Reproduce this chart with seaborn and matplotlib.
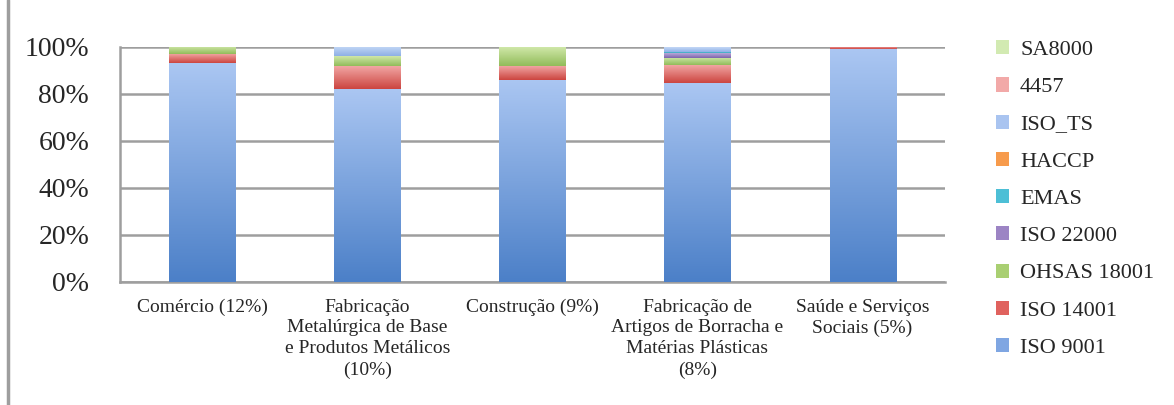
import numpy as np
import pandas as pd
import seaborn as sns
import matplotlib.pyplot as plt
from matplotlib.patches import Patch
from matplotlib.lines import Line2D
from matplotlib.colors import to_rgb

# data (share of each certification per sector, %)
setores = ["Comércio (12%)",
           "Fabricação\nMetalúrgica de Base\ne Produtos Metálicos\n(10%)",
           "Construção (9%)",
           "Fabricação de\nArtigos de Borracha e\nMatérias Plásticas\n(8%)",
           "Saúde e Serviços\nSociais (5%)"]
certs = ["ISO 9001", "ISO 14001", "OHSAS 18001", "ISO 22000", "EMAS",
         "HACCP", "ISO_TS", "4457", "SA8000"]
iso9001 = [93, 82, 86, 84.5, 99]
iso14001 = [4, 10, 6, 8, 1]
ohsas = [3, 4, 8, 3, 0]
iso22000 = [0, 0, 0, 2, 0]
emas = [0, 0, 0, 0.5, 0]
haccp = [0, 0, 0, 0, 0]
iso_ts = [0, 4, 0, 2, 0]
n4457 = [0, 0, 0, 0, 0]
sa8000 = [0, 0, 0, 0, 0]

cores = ["#7FA6E2", "#E0625E", "#A9CF72", "#9C84C4", "#4DBFD6",
         "#F79B4C", "#A9C4F0", "#F2A9A8", "#D2EAB2"]
# light (top) / dark (bottom) shades for the gradient fill
topo = ["#AAC6F2", "#F3AAA8", "#CFE7A8", "#B9A8D9", "#8FD8E8",
        "#FBC08C", "#C4D8F6", "#F7C8C6", "#E4F2CE"]
base = ["#4C80C8", "#CC4540", "#92BC5A", "#7D64AC", "#2EA4BE",
        "#E87E2A", "#8EB0E6", "#E48E8C", "#BBDD90"]

valores = np.array([iso9001, iso14001, ohsas, iso22000, emas,
                    haccp, iso_ts, n4457, sa8000])
acum = valores.cumsum(axis=0)

sns.set_style("white")
plt.rcParams["font.family"] = ["Liberation Serif", "DejaVu Serif"]

fig = plt.figure(figsize=(11.74, 4.05), dpi=100)
ax = fig.add_axes([0.102, 0.304, 0.703, 0.580])

# stacked bars: draw cumulative totals from the top layer down
camadas = {}
for i in range(len(certs) - 1, -1, -1):
    df = pd.DataFrame({"setor": setores, "v": acum[i]})
    n0 = len(ax.patches)
    sns.barplot(data=df, x="setor", y="v", color=cores[i], width=0.4,
                saturation=1, ax=ax, zorder=3, edgecolor="none")
    camadas[i] = list(ax.patches)[n0:]

# vertical gradient on the visible part of each segment
for i in range(len(certs)):
    c1 = np.array(to_rgb(topo[i]))
    c0 = np.array(to_rgb(base[i]))
    grad = np.linspace(0, 1, 64)[:, None]
    img = (c0[None, :] * (1 - grad) + c1[None, :] * grad)[:, None, :]
    for j, p in enumerate(camadas[i]):
        y1 = p.get_height()
        y0 = camadas[i - 1][j].get_height() if i > 0 else 0
        if y1 - y0 <= 0:
            continue
        ax.imshow(img, extent=(p.get_x(), p.get_x() + p.get_width(), y0, y1),
                  origin="lower", aspect="auto", zorder=3.5,
                  interpolation="bilinear")

ax.set_ylim(0, 100)
ax.set_xlim(-0.5, 4.5)
ax.set_yticks(range(0, 101, 20))
ax.set_yticklabels([f"{t}%" for t in range(0, 101, 20)], fontsize=20)
ax.yaxis.grid(True, color="#9E9E9E", lw=1.8, zorder=0)
ax.set_axisbelow(True)
ax.set_xlabel("")
ax.set_ylabel("")
ax.tick_params(axis="y", length=8, width=1.8, color="#9E9E9E", pad=14)
ax.set_xticks(range(5))
ax.set_xticklabels(setores, fontsize=14, linespacing=1.3, va="top")
ax.tick_params(axis="x", which="major", length=0, pad=12)
ax.set_xticks(np.arange(-0.5, 5, 1), minor=True)
ax.tick_params(axis="x", which="minor", length=9, width=1.8, color="#9E9E9E")
for s in ["top", "right"]:
    ax.spines[s].set_visible(False)
for s in ["left", "bottom"]:
    ax.spines[s].set_color("#9E9E9E")
    ax.spines[s].set_linewidth(1.8)

handles = [Patch(facecolor=cores[i], edgecolor="none") for i in range(len(certs))][::-1]
fig.legend(handles, certs[::-1], loc="upper left",
           bbox_to_anchor=(0.831, 0.95), frameon=False, fontsize=16,
           handlelength=0.6, handleheight=0.6, handletextpad=0.5,
           labelspacing=0.78)

fig.add_artist(Line2D([0.0068, 0.0068], [0, 1], color="#9E9E9E", lw=2.5,
                      transform=fig.transFigure))

fig.savefig("out.png", dpi=100)
